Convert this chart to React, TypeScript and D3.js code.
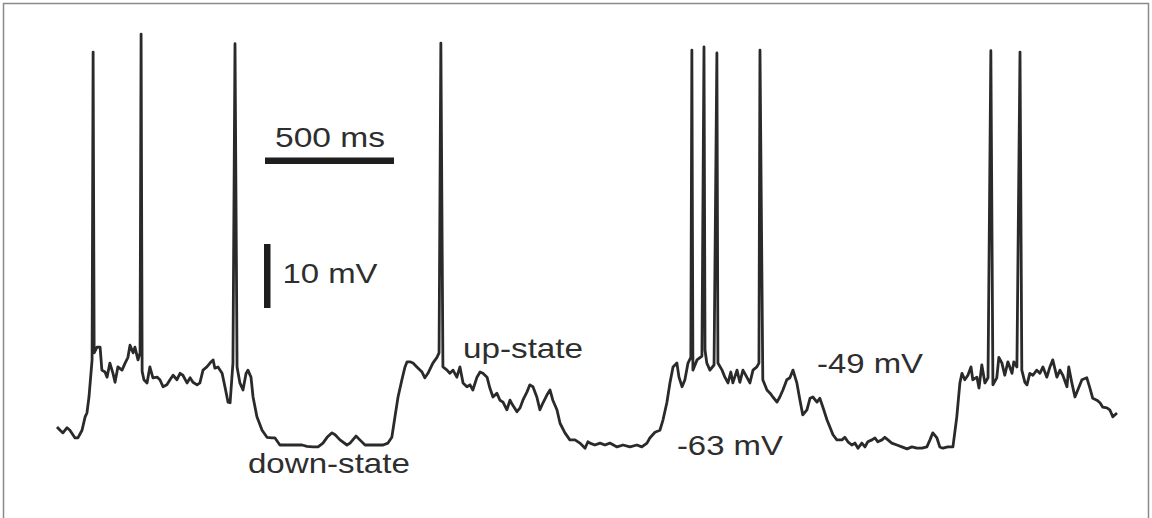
import * as d3 from "d3";
import { useEffect, useRef } from "react";

// membrane potential trace, time in ms, voltage in mV
const traceMs = [
  0, 12, 23, 39, 50, 70, 81, 97, 109, 116, 124, 136, 144, 155, 167, 174, 186, 194, 205, 217, 225, 236,
  252, 264, 275, 283, 295, 302, 314, 322, 330, 337, 349, 360, 372, 388, 399, 411, 426, 438, 450, 465,
  477, 488, 504, 516, 527, 543, 554, 566, 581, 593, 605, 612, 624, 640, 651, 663, 671, 682, 698, 709,
  721, 733, 740, 752, 760, 775, 795, 814, 833, 845, 864, 884, 903, 930, 950, 969, 992, 1012, 1031, 1047,
  1066, 1078, 1097, 1124, 1136, 1159, 1174, 1194, 1213, 1240, 1264, 1283, 1298, 1310, 1322, 1337, 1349,
  1357, 1368, 1380, 1395, 1415, 1426, 1438, 1457, 1473, 1481, 1496, 1512, 1523, 1535, 1550, 1562, 1574,
  1589, 1601, 1612, 1628, 1640, 1651, 1667, 1678, 1690, 1705, 1717, 1729, 1744, 1756, 1767, 1783, 1795,
  1806, 1822, 1833, 1845, 1860, 1872, 1884, 1899, 1911, 1922, 1938, 1950, 1969, 1988, 2008, 2027, 2047,
  2058, 2066, 2085, 2105, 2124, 2143, 2171, 2194, 2221, 2248, 2267, 2287, 2298, 2318, 2337, 2349, 2364,
  2376, 2388, 2403, 2411, 2423, 2434, 2446, 2457, 2465, 2481, 2500, 2512, 2519, 2531, 2547, 2562, 2578,
  2589, 2601, 2612, 2620, 2636, 2647, 2659, 2674, 2686, 2698, 2713, 2721, 2736, 2752, 2764, 2775, 2791,
  2802, 2814, 2829, 2841, 2853, 2868, 2880, 2891, 2907, 2919, 2930, 2946, 2957, 2969, 2985, 2996, 3008,
  3023, 3043, 3054, 3066, 3081, 3093, 3105, 3120, 3132, 3143, 3159, 3171, 3182, 3198, 3209, 3221, 3236,
  3256, 3275, 3295, 3314, 3333, 3353, 3372, 3384, 3395, 3411, 3422, 3434, 3453, 3473, 3488, 3500, 3508,
  3519, 3531, 3543, 3550, 3566, 3574, 3585, 3597, 3609, 3628, 3643, 3651, 3663, 3674, 3686, 3702, 3709,
  3721, 3740, 3752, 3760, 3771, 3783, 3798, 3810, 3822, 3837, 3849, 3860, 3876, 3888, 3899, 3915, 3922,
  3934, 3946, 3957, 3973, 3992, 4004, 4015, 4031, 4043, 4054, 4070, 4081, 4093, 4109,
];

const traceMv = [
  -60.2, -60.7, -61.1, -60.3, -60.7, -61.9, -61.9, -60.7, -58.6, -58.0, -55.5, -49.7, -48.6, -47.7, -47.7,
  -51.3, -51.6, -52.4, -50.2, -51.8, -53.2, -50.8, -51.3, -50.2, -49.3, -47.4, -48.6, -47.7, -49.7, -48.6,
  -51.5, -52.8, -53.3, -50.8, -52.5, -52.4, -52.8, -53.9, -53.6, -52.8, -52.1, -52.8, -51.8, -52.1, -53.3,
  -52.5, -53.2, -53.6, -53.3, -51.3, -50.8, -50.2, -49.7, -51.0, -50.8, -51.8, -53.9, -56.3, -56.4, -50.2,
  -50.8, -53.3, -54.4, -51.8, -51.3, -52.4, -55.5, -58.6, -60.7, -61.8, -61.9, -61.9, -63.0, -63.0, -63.0,
  -63.0, -63.0, -63.2, -63.3, -63.3, -62.7, -61.8, -61.1, -61.4, -62.2, -63.0, -62.7, -61.6, -62.2, -63.0,
  -63.0, -63.0, -63.0, -62.7, -61.8, -58.6, -55.5, -52.8, -50.8, -50.0, -50.0, -50.2, -50.8, -51.6, -52.5,
  -51.8, -50.2, -49.3, -48.6, -50.8, -51.3, -51.8, -51.3, -52.4, -50.8, -53.3, -53.9, -53.6, -54.4, -52.4,
  -51.6, -51.8, -52.4, -54.1, -55.5, -54.9, -56.0, -56.3, -57.5, -56.0, -56.8, -57.8, -57.2, -56.0, -54.7,
  -53.6, -53.9, -55.5, -57.5, -56.4, -55.2, -54.4, -56.0, -57.5, -59.6, -61.1, -62.2, -62.2, -62.7, -63.5,
  -62.5, -62.7, -63.0, -62.7, -63.0, -62.7, -63.3, -63.0, -63.3, -63.0, -63.3, -62.7, -61.9, -61.0, -60.7,
  -59.1, -56.4, -53.3, -50.8, -50.2, -52.4, -53.9, -52.8, -50.2, -49.3, -51.3, -49.7, -49.1, -48.2, -50.2,
  -51.3, -50.5, -50.2, -51.3, -52.4, -53.3, -51.6, -53.3, -51.3, -53.2, -51.3, -52.4, -53.3, -51.3, -50.8,
  -50.2, -52.8, -54.4, -54.9, -55.5, -56.3, -55.5, -54.4, -52.8, -52.5, -51.3, -53.3, -56.0, -58.3, -57.5,
  -55.7, -55.5, -56.3, -55.7, -57.1, -59.1, -60.2, -61.4, -62.2, -62.2, -61.8, -62.5, -63.0, -62.7, -63.5,
  -62.7, -63.3, -62.5, -62.2, -61.9, -62.5, -62.2, -61.8, -62.2, -62.7, -63.0, -63.3, -63.6, -63.3, -63.5,
  -63.5, -63.3, -62.2, -61.1, -61.9, -63.3, -63.5, -63.3, -63.3, -58.6, -53.3, -51.8, -52.8, -52.1, -50.8,
  -52.8, -52.4, -54.1, -50.5, -53.3, -52.5, -53.6, -52.5, -49.3, -50.2, -52.1, -50.0, -51.8, -50.0, -50.8,
  -51.3, -53.2, -53.6, -51.8, -52.1, -51.3, -51.8, -50.8, -52.4, -50.8, -49.7, -52.4, -51.3, -52.1, -53.9,
  -50.8, -53.3, -55.5, -54.4, -52.8, -52.5, -54.1, -55.7, -56.0, -56.4, -57.1, -57.2, -57.5, -58.6, -58.0,
];

// action potentials
const spikeMs = [140, 326, 690, 1488, 2461, 2508, 2558, 2725, 3620, 3733];
const spikePeakMv = [-1.6, 1.2, -0.3, -0.2, -1.3, -0.8, -1.75, -1.3, -1.4, -1.6];

// scale bars
const timeBarMs = 500;
const voltBarMv = 10;

const labels = [
  { text: "500 ms", t: 845, v: -16.4, len: 110 },
  { text: "10 mV", t: 874, v: -37.7, len: 95 },
  { text: "up-state", t: 1574, v: -49.4, len: 120 },
  { text: "down-state", t: 740, v: -67.4, len: 162 },
  { text: "-63 mV", t: 2403, v: -64.6, len: 106 },
  { text: "-49 mV", t: 2946, v: -51.7, len: 106 },
];

const App = () => {
  const ref = useRef<SVGSVGElement | null>(null);

  useEffect(() => {
    const svg = d3.select(ref.current);
    svg.selectAll("*").remove();

    const width = 1152;
    const height = 518;
    svg.attr("width", width).attr("height", height);

    const xScale = d3.scaleLinear().domain([0, 4109]).range([57, 1117]);
    const yScale = d3.scaleLinear().domain([-63, -53]).range([445, 381]);

    svg
      .append("rect")
      .attr("x", 0)
      .attr("y", 0)
      .attr("width", width)
      .attr("height", height)
      .attr("fill", "#fff");

    // frame
    svg
      .append("rect")
      .attr("x", 3.5)
      .attr("y", 3.5)
      .attr("width", 1145)
      .attr("height", 530)
      .attr("fill", "none")
      .attr("stroke", "#8a8a8a")
      .attr("stroke-width", 1.5);

    // merge spikes into the trace
    const points: [number, number][] = traceMs.map((t, i) => [t, traceMv[i]]);
    spikeMs.forEach((t, i) => points.push([t, spikePeakMv[i]]));
    points.sort((a, b) => a[0] - b[0]);

    const line = d3
      .line<[number, number]>()
      .x((d) => xScale(d[0]))
      .y((d) => yScale(d[1]));

    svg
      .append("path")
      .datum(points)
      .attr("d", line)
      .attr("fill", "none")
      .attr("stroke", "#2a2a2a")
      .attr("stroke-width", 2.8)
      .attr("stroke-linejoin", "round");

    // time scale bar
    const barX = 265;
    svg
      .append("rect")
      .attr("x", barX)
      .attr("y", 157.5)
      .attr("width", xScale(timeBarMs) - xScale(0))
      .attr("height", 6.5)
      .attr("fill", "#1e1e1e");

    // voltage scale bar
    svg
      .append("rect")
      .attr("x", 264)
      .attr("y", 244)
      .attr("width", 6.5)
      .attr("height", yScale(-63) - yScale(-63 + voltBarMv))
      .attr("fill", "#1e1e1e");

    svg
      .selectAll("text.label")
      .data(labels)
      .enter()
      .append("text")
      .attr("class", "label")
      .attr("x", (d) => xScale(d.t))
      .attr("y", (d) => yScale(d.v))
      .attr("textLength", (d) => d.len)
      .attr("lengthAdjust", "spacingAndGlyphs")
      .style("font-family", "'Liberation Sans', Arial, sans-serif")
      .style("font-size", "28px")
      .style("fill", "#2e2e2e")
      .text((d) => d.text);
  }, []);

  return (
    <svg
      ref={ref}
      style={{ position: "absolute", left: 0, top: 0, display: "block" }}
    ></svg>
  );
};

export default App;
